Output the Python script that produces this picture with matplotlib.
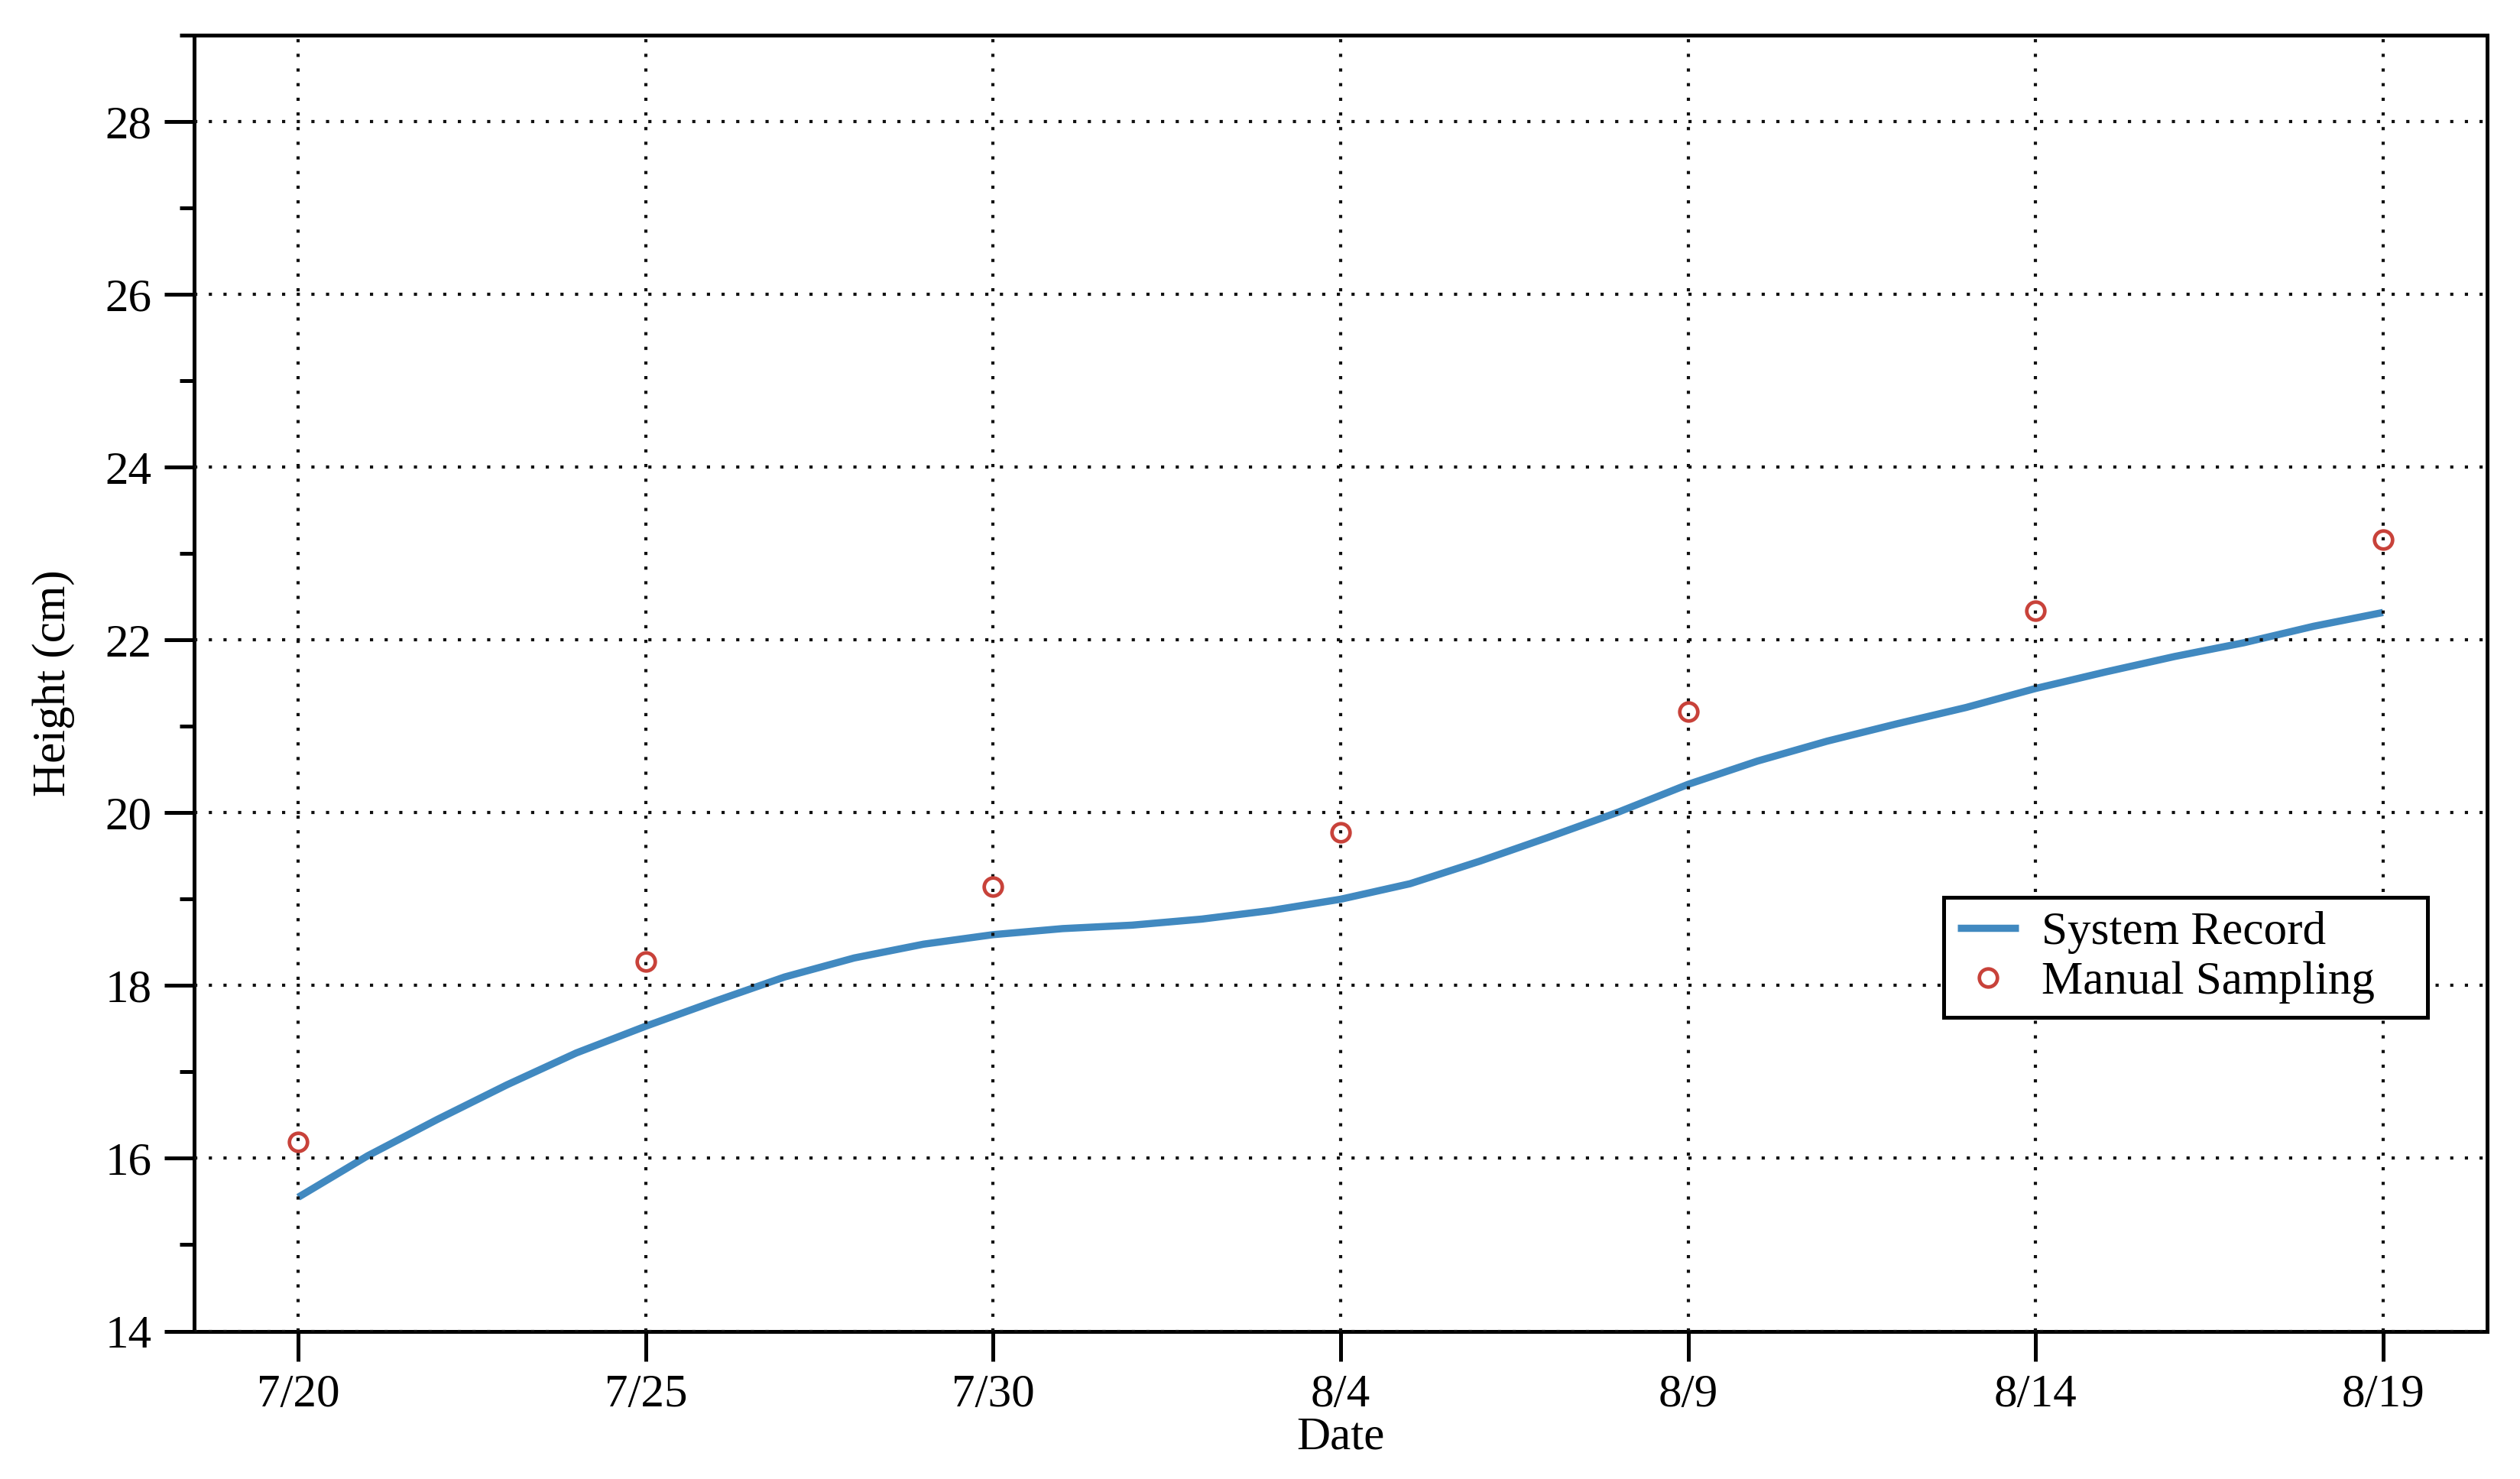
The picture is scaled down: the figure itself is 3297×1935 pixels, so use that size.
import matplotlib
matplotlib.use('Agg')
import matplotlib.pyplot as plt
from matplotlib.ticker import MultipleLocator

# days counted from 7/20
tick_days = [0, 5, 10, 15, 20, 25, 30]
tick_labels = ['7/20', '7/25', '7/30', '8/4', '8/9', '8/14', '8/19']

# system record
record_days = list(range(31))
record_height = [15.55, 16.03, 16.45, 16.85, 17.22, 17.53, 17.82, 18.10,
                 18.32, 18.48, 18.59, 18.66, 18.70, 18.77, 18.87, 19.00,
                 19.18, 19.44, 19.72, 20.01, 20.33, 20.60, 20.83, 21.03,
                 21.22, 21.44, 21.63, 21.81, 21.97, 22.16, 22.32]

# manual sampling
sample_days = [0, 5, 10, 15, 20, 25, 30]
sample_height = [16.19, 18.28, 19.15, 19.77, 21.17, 22.34, 23.16]

plt.rcParams['font.family'] = ['Liberation Serif', 'DejaVu Serif']
plt.rcParams['font.size'] = 22

fig = plt.figure(figsize=(16.485, 9.675), dpi=200)
ax = fig.add_axes([0.077, 0.100, 0.910, 0.876])

ax.plot(record_days, record_height, color='#4189c0', lw=3.4,
        solid_joinstyle='round', solid_capstyle='butt',
        label='System Record', zorder=2)
ax.plot(sample_days, sample_height, 'o', ms=8.5, mfc='none', mec='#c8423a',
        mew=1.7, label='Manual Sampling', zorder=3)

ax.set_xlim(-1.5, 31.5)
ax.set_ylim(14, 29)
ax.set_xticks(tick_days)
ax.set_xticklabels(tick_labels)
ax.yaxis.set_major_locator(MultipleLocator(2))
ax.yaxis.set_minor_locator(MultipleLocator(1))

ax.set_axisbelow(False)
ax.grid(True, which='major', color='#111111', lw=1.5, ls=(0, (1, 3.6)))
for gl in ax.get_xgridlines() + ax.get_ygridlines():
    gl.set_zorder(2.5)

for s in ax.spines.values():
    s.set_linewidth(1.8)
ax.tick_params(which='major', direction='out', length=14, width=1.8,
               labelsize=22, pad=6, top=False, right=False)
ax.tick_params(which='minor', direction='out', length=7, width=1.8,
               top=False, right=False)
ax.tick_params(axis='x', which='minor', bottom=False)

ax.set_xlabel('Date', fontsize=22, labelpad=0)
ax.set_ylabel('Height (cm)', fontsize=22, labelpad=14)

# box spans a fixed width, like the reference
leg = ax.legend(loc='upper left', bbox_to_anchor=(0.763, 0.335, 0.211, 0.0),
                mode='expand', borderaxespad=0, fancybox=False, framealpha=1,
                edgecolor='black', fontsize=22, handlelength=1.3,
                numpoints=1, borderpad=0.3, labelspacing=0.15,
                handletextpad=0.5)
leg.get_frame().set_linewidth(1.8)

fig.savefig('out.png', dpi=200)
